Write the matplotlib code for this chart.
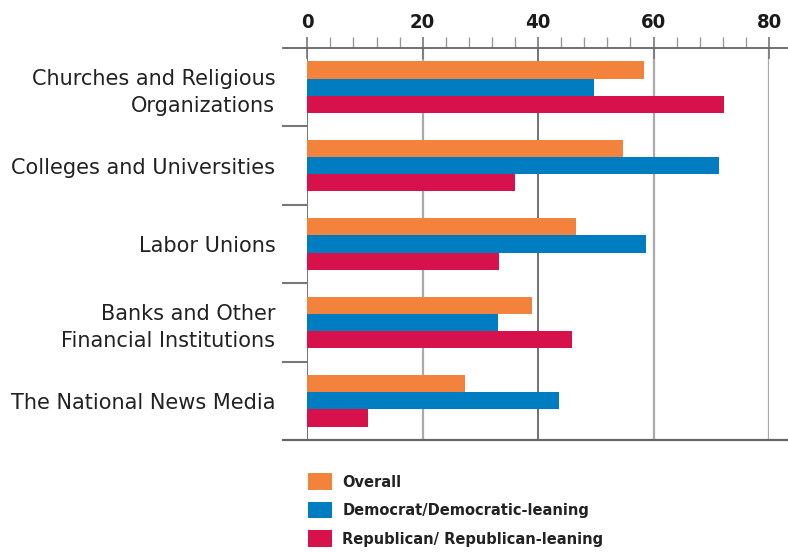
import numpy as np
import matplotlib.pyplot as plt
import matplotlib.transforms as mtransforms

categories = [
    'Churches and Religious\nOrganizations',
    'Colleges and Universities',
    'Labor Unions',
    'Banks and Other\nFinancial Institutions',
    'The National News Media',
]
overall = [58.3, 54.7, 46.6, 38.9, 27.3]
democrat = [49.6, 71.3, 58.7, 33.0, 43.6]
republican = [72.2, 36.0, 33.2, 45.8, 10.5]
series_names = ['Overall', 'Democrat/Democratic-leaning', 'Republican/ Republican-leaning']
colors = ['#F3823C', '#007DC0', '#D6114B']

fig = plt.figure(figsize=(7.88, 5.52), dpi=100)
ax = fig.add_axes([307.3 / 788, 1 - 440 / 552, 461.7 / 788, (440 - 48) / 552])

y = np.arange(len(categories))
h = 0.22
bars = []
for i, vals in enumerate([overall, democrat, republican]):
    b = ax.barh(y + (i - 1) * h, vals, height=h, color=colors[i], label=series_names[i], zorder=3)
    bars.append(b)

ax.set_xlim(0, 80)
ax.set_ylim(len(categories) - 0.5, -0.5)

# gridlines
for v in [0, 20, 40, 60, 80]:
    c = '#666666' if v in (0, 40) else '#aaaaaa'
    ax.axvline(v, color=c, lw=1.6 if v in (20, 60, 80) else 1.3, zorder=1)

for s in ax.spines.values():
    s.set_visible(False)

# top and bottom rules, extending past the plot
x0, x1 = (283 - 307.3) / 461.7, (788 - 307.3) / 461.7
ax.plot([x0, x1], [1, 1], transform=ax.transAxes, color='#666666', lw=1.3, clip_on=False, zorder=4)
ax.plot([x0, x1], [0, 0], transform=ax.transAxes, color='#666666', lw=1.6, clip_on=False, zorder=4)

# separators between categories on the left
trans = mtransforms.blended_transform_factory(ax.transAxes, ax.transData)
for yy in y[:-1] + 0.5:
    ax.plot([x0, 0], [yy, yy], transform=trans, color='#777777', lw=1.5, clip_on=False)

ax.xaxis.tick_top()
ax.set_xticks([0, 20, 40, 60, 80])
ax.set_xticks(np.arange(0, 81, 4), minor=True)
ax.tick_params(axis='x', which='major', direction='inout', length=16.5, width=1.2, color='#777777', pad=3.5,
               labelsize=14.5)
ax.tick_params(axis='x', which='minor', direction='out', length=8, width=1.0, color='#999999')
for t in ax.get_xticklabels():
    t.set_fontweight('heavy')
    t.set_fontstretch('condensed')
    t.set_color('#1a1a1a')

ax.set_yticks(y)
ax.set_yticklabels(categories, fontsize=15, color='#222222', linespacing=1.4)
ax.tick_params(axis='y', length=0, pad=23)

leg = fig.legend(handles=bars, labels=series_names, loc='upper left',
                 bbox_to_anchor=(300 / 788, 1 - 465 / 552), frameon=False, borderpad=0,
                 handlelength=1.45, handleheight=1.2, handletextpad=0.65, labelspacing=0.72,
                 prop={'family': 'DejaVu Sans', 'stretch': 'condensed', 'weight': 'bold', 'size': 11.7})
for t in leg.get_texts():
    t.set_color('#222222')

fig.savefig('out.png', dpi=100)
